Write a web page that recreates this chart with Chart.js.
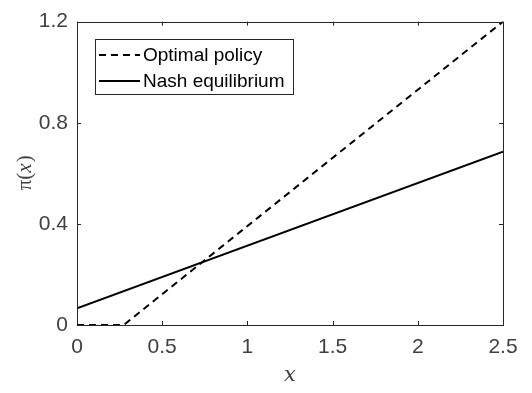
<!DOCTYPE html>
<html>
<head>
<meta charset="utf-8">
<script src="https://cdn.jsdelivr.net/npm/chart.js@4/dist/chart.umd.min.js"></script>
<style>
  html, body { margin: 0; padding: 0; background: #fff; }
  #wrap { width: 532px; height: 393px; position: relative; }
</style>
</head>
<body>
<div id="wrap"><canvas id="grafico"></canvas></div>
<script>
// --- Dados ---
const optimoX = [0, 0.274, 2.5];
const optimoY = [0, 0, 1.2];
const nashX = [0, 2.5];
const nashY = [0.066, 0.685];
const ticksX = [0, 0.5, 1, 1.5, 2, 2.5];
const ticksY = [0, 0.4, 0.8, 1.2];
const nomes = ['Optimal policy', 'Nash equilibrium'];

const FONTE = '"Liberation Sans", Arial, Helvetica, sans-serif';
const COR_EIXO = '#262626';

function pontos(xs, ys) {
  return xs.map((x, i) => ({ x: x, y: ys[i] }));
}

function fmt(v) {
  return String(Number(v.toFixed(2)));
}

// desenha caixa, ticks para dentro, legenda e rótulos dos eixos (estilo MATLAB)
const estiloMatlab = {
  id: 'estiloMatlab',
  afterDraw(chart) {
    const ctx = chart.ctx;
    const a = chart.chartArea;
    const sx = chart.scales.x, sy = chart.scales.y;
    ctx.save();
    ctx.strokeStyle = COR_EIXO;
    ctx.lineWidth = 1;
    ctx.strokeRect(Math.round(a.left) + 0.5, Math.round(a.top) + 0.5,
      Math.round(a.right - a.left), Math.round(a.bottom - a.top));

    // ticks internos em todos os lados
    const L = 4;
    ctx.beginPath();
    ticksX.forEach(v => {
      const px = Math.round(sx.getPixelForValue(v)) + 0.5;
      ctx.moveTo(px, a.bottom); ctx.lineTo(px, a.bottom - L);
      ctx.moveTo(px, a.top); ctx.lineTo(px, a.top + L);
    });
    ticksY.forEach(v => {
      const py = Math.round(sy.getPixelForValue(v)) + 0.5;
      ctx.moveTo(a.left, py); ctx.lineTo(a.left + L, py);
      ctx.moveTo(a.right, py); ctx.lineTo(a.right - L, py);
    });
    ctx.stroke();

    // legenda
    const lx = 95, ly = 39, lw = 198, lh = 55;
    ctx.fillStyle = '#fff';
    ctx.fillRect(lx, ly, lw, lh);
    ctx.strokeStyle = COR_EIXO;
    ctx.strokeRect(lx + 0.5, ly + 0.5, lw, lh);
    const linhas = [ly + 16, ly + 42];
    chart.data.datasets.forEach((ds, i) => {
      ctx.beginPath();
      ctx.strokeStyle = ds.borderColor;
      ctx.lineWidth = ds.borderWidth;
      ctx.setLineDash(ds.borderDash || []);
      ctx.moveTo(lx + 4, linhas[i]);
      ctx.lineTo(lx + 45, linhas[i]);
      ctx.stroke();
      ctx.setLineDash([]);
      ctx.fillStyle = '#000';
      ctx.font = '19px ' + FONTE;
      ctx.textBaseline = 'middle';
      ctx.textAlign = 'left';
      ctx.fillText(ds.label, lx + 48, linhas[i] + 1);
    });

    // rótulos dos eixos
    ctx.fillStyle = '#404040';
    ctx.font = 'italic 21px "DejaVu Serif", "Liberation Serif", serif';
    ctx.textAlign = 'center';
    ctx.textBaseline = 'middle';
    ctx.fillText('x', (a.left + a.right) / 2, 376);
    ctx.translate(25, (a.top + a.bottom) / 2);
    ctx.rotate(-Math.PI / 2);
    ctx.font = '21px "Liberation Serif", serif';
    const p1 = '\u03C0(', p2 = 'x', p3 = ')';
    ctx.font = '21px "Liberation Serif", serif';
    const w1 = ctx.measureText(p1).width, w3 = ctx.measureText(p3).width;
    ctx.font = 'italic 21px "Liberation Serif", serif';
    const w2 = ctx.measureText(p2).width;
    let x0 = -(w1 + w2 + w3) / 2;
    ctx.textAlign = 'left';
    ctx.font = '21px "Liberation Serif", serif';
    ctx.fillText(p1, x0, 0);
    ctx.font = 'italic 21px "Liberation Serif", serif';
    ctx.fillText(p2, x0 + w1, 0);
    ctx.font = '21px "Liberation Serif", serif';
    ctx.fillText(p3, x0 + w1 + w2 + 1, 0);
    ctx.restore();
  }
};

new Chart(document.getElementById('grafico'), {
  type: 'scatter',
  data: {
    datasets: [
      { label: nomes[0], data: pontos(optimoX, optimoY), showLine: true,
        borderColor: '#000', borderWidth: 2, borderDash: [7, 5], pointRadius: 0 },
      { label: nomes[1], data: pontos(nashX, nashY), showLine: true,
        borderColor: '#000', borderWidth: 2, pointRadius: 0 }
    ]
  },
  options: {
    responsive: true,
    maintainAspectRatio: false,
    animation: false,
    layout: { padding: { left: 0, right: 29, top: 11, bottom: 0 } },
    plugins: { legend: { display: false }, tooltip: { enabled: false } },
    scales: {
      x: {
        type: 'linear', min: 0, max: 2.5,
        afterFit: s => { s.height = 68; },
        afterBuildTicks: s => { s.ticks = ticksX.map(v => ({ value: v })); },
        grid: { display: false, drawTicks: false },
        border: { display: false },
        ticks: { color: '#404040', font: { family: FONTE, size: 21 }, padding: 10,
                 maxRotation: 0, callback: v => fmt(v) }
      },
      y: {
        type: 'linear', min: 0, max: 1.2,
        afterFit: s => { s.width = 77; },
        afterBuildTicks: s => { s.ticks = ticksY.map(v => ({ value: v })); },
        grid: { display: false, drawTicks: false },
        border: { display: false },
        ticks: { color: '#404040', font: { family: FONTE, size: 21 }, padding: 9,
                 callback: v => fmt(v) }
      }
    }
  },
  plugins: [estiloMatlab]
});
</script>
</body>
</html>
